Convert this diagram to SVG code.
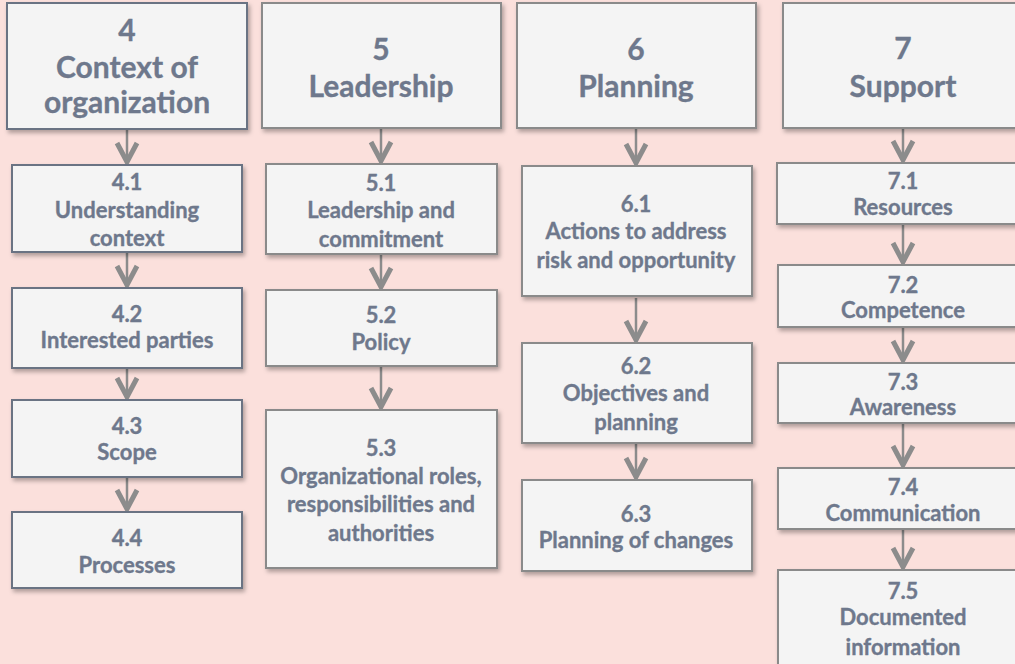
<svg xmlns="http://www.w3.org/2000/svg" width="1015" height="664" viewBox="0 0 1015 664">
<defs>
<style>
.bx{fill:#f4f4f4;stroke:#8a8a8a;stroke-width:2;filter:url(#sh)}
.bx4{stroke:#6b7383}
.t{font-family:Lato,"Open Sans",sans-serif;font-weight:700;fill:#6e788c;stroke:#6e788c;stroke-width:0.35;text-anchor:middle}
.h{font-size:30px}
.s{font-size:22px}
.c{stroke:#8c8c8c;stroke-width:2.5;fill:none;marker-end:url(#chev)}
</style>
<filter id="sh" x="-10%" y="-10%" width="130%" height="140%">
<feDropShadow dx="2" dy="3" stdDeviation="2" flood-color="#000" flood-opacity="0.3"/>
</filter>
<marker id="chev" markerUnits="userSpaceOnUse" viewBox="-26 -16 32 32" markerWidth="32" markerHeight="32" refX="0" refY="0" orient="auto">
<path d="M-19,-10 L0,0 L-19,10" fill="none" stroke="#8c8c8c" stroke-width="5"/>
</marker>
</defs>
<rect width="1015" height="664" fill="#fbe0dc"/>

<g id="connectors">
<line class="c" x1="127" y1="129" x2="127" y2="162"/>
<line class="c" x1="127" y1="252" x2="127" y2="285"/>
<line class="c" x1="127" y1="368" x2="127" y2="397"/>
<line class="c" x1="127" y1="477" x2="127" y2="509"/>
<line class="c" x1="381" y1="128" x2="381" y2="161"/>
<line class="c" x1="381" y1="254" x2="381" y2="287"/>
<line class="c" x1="381" y1="366" x2="381" y2="407"/>
<line class="c" x1="636" y1="128" x2="636" y2="163"/>
<line class="c" x1="636" y1="298" x2="636" y2="340"/>
<line class="c" x1="636" y1="443" x2="636" y2="477"/>
<line class="c" x1="903" y1="128" x2="903" y2="160"/>
<line class="c" x1="903" y1="224" x2="903" y2="262"/>
<line class="c" x1="903" y1="327" x2="903" y2="360"/>
<line class="c" x1="903" y1="423" x2="903" y2="465"/>
<line class="c" x1="903" y1="529" x2="903" y2="567"/>
</g>

<g id="n4">
<rect class="bx bx4" x="7" y="3" width="240" height="126"/>
<text class="t h" x="127" y="41">4</text>
<text class="t h" x="127" y="78">Context of</text>
<text class="t h" x="127" y="113">organization</text>
</g>
<g id="n41">
<rect class="bx bx4" x="12" y="165" width="230" height="87"/>
<text class="t s" x="127" y="190">4.1</text>
<text class="t s" x="127" y="218">Understanding</text>
<text class="t s" x="127" y="246">context</text>
</g>
<g id="n42">
<rect class="bx bx4" x="12" y="288" width="230" height="80"/>
<text class="t s" x="127" y="322">4.2</text>
<text class="t s" x="127" y="348">Interested parties</text>
</g>
<g id="n43">
<rect class="bx bx4" x="12" y="400" width="230" height="77"/>
<text class="t s" x="127" y="434">4.3</text>
<text class="t s" x="127" y="460">Scope</text>
</g>
<g id="n44">
<rect class="bx bx4" x="12" y="512" width="230" height="76"/>
<text class="t s" x="127" y="546">4.4</text>
<text class="t s" x="127" y="573">Processes</text>
</g>

<g id="n5">
<rect class="bx" x="262" y="3" width="239" height="125"/>
<text class="t h" x="381" y="60">5</text>
<text class="t h" x="381" y="97">Leadership</text>
</g>
<g id="n51">
<rect class="bx" x="266" y="164" width="231" height="90"/>
<text class="t s" x="381" y="191">5.1</text>
<text class="t s" x="381" y="218">Leadership and</text>
<text class="t s" x="381" y="247">commitment</text>
</g>
<g id="n52">
<rect class="bx" x="266" y="290" width="231" height="76"/>
<text class="t s" x="381" y="323">5.2</text>
<text class="t s" x="381" y="350">Policy</text>
</g>
<g id="n53">
<rect class="bx" x="266" y="410" width="231" height="158"/>
<text class="t s" x="381" y="456">5.3</text>
<text class="t s" x="381" y="484">Organizational roles,</text>
<text class="t s" x="381" y="512">responsibilities and</text>
<text class="t s" x="381" y="541">authorities</text>
</g>

<g id="n6">
<rect class="bx" x="517" y="3" width="239" height="125"/>
<text class="t h" x="636" y="60">6</text>
<text class="t h" x="636" y="97">Planning</text>
</g>
<g id="n61">
<rect class="bx" x="522" y="166" width="230" height="130"/>
<text class="t s" x="636" y="212">6.1</text>
<text class="t s" x="636" y="239">Actions to address</text>
<text class="t s" x="636" y="268">risk and opportunity</text>
</g>
<g id="n62">
<rect class="bx" x="522" y="343" width="230" height="100"/>
<text class="t s" x="636" y="374">6.2</text>
<text class="t s" x="636" y="401">Objectives and</text>
<text class="t s" x="636" y="430">planning</text>
</g>
<g id="n63">
<rect class="bx" x="522" y="480" width="230" height="91"/>
<text class="t s" x="636" y="522">6.3</text>
<text class="t s" x="636" y="548">Planning of changes</text>
</g>

<g id="n7">
<rect class="bx" x="783" y="3" width="240" height="125"/>
<text class="t h" x="903" y="59">7</text>
<text class="t h" x="903" y="97">Support</text>
</g>
<g id="n71">
<rect class="bx" x="777" y="163" width="252" height="61"/>
<text class="t s" x="903" y="189">7.1</text>
<text class="t s" x="903" y="215">Resources</text>
</g>
<g id="n72">
<rect class="bx" x="778" y="265" width="250" height="62"/>
<text class="t s" x="903" y="293">7.2</text>
<text class="t s" x="903" y="318">Competence</text>
</g>
<g id="n73">
<rect class="bx" x="778" y="363" width="250" height="60"/>
<text class="t s" x="903" y="390">7.3</text>
<text class="t s" x="903" y="415">Awareness</text>
</g>
<g id="n74">
<rect class="bx" x="778" y="468" width="250" height="61"/>
<text class="t s" x="903" y="495">7.4</text>
<text class="t s" x="903" y="521">Communication</text>
</g>
<g id="n75">
<rect class="bx" x="778" y="570" width="250" height="110"/>
<text class="t s" x="903" y="599">7.5</text>
<text class="t s" x="903" y="625">Documented</text>
<text class="t s" x="903" y="655">information</text>
</g>
</svg>
